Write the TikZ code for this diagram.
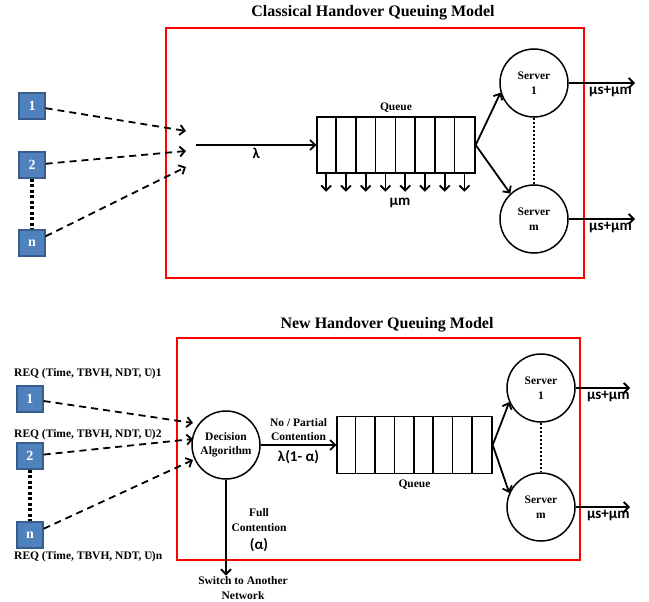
\documentclass[tikz,border=0pt]{standalone}
\usepackage{fontspec}
\setmainfont{Liberation Serif}
\newfontfamily\calibfont{Carlito}
\usetikzlibrary{positioning, arrows.meta}

\definecolor{blkfill}{RGB}{79,129,189}
\definecolor{blkdraw}{RGB}{56,93,138}

\tikzset{
  redbox/.style={draw=red, line width=1.5pt},
  blk/.style={draw=blkdraw, fill=blkfill, line width=1.2pt, minimum size=26pt, inner sep=0pt, text=white, font=\bfseries\fontsize{14}{16}\selectfont},
  lbl/.style={font=\bfseries\fontsize{11.5}{14.5}\selectfont, align=center, inner sep=1pt},
  symb/.style={font=\calibfont\bfseries\fontsize{15}{17}\selectfont, inner sep=1pt},
  ttl/.style={font=\bfseries\fontsize{16}{18}\selectfont},
  arr/.style={-{Straight Barb[length=5pt,width=10pt]}, line width=1.8pt},
  darr/.style={arr, dash pattern=on 7pt off 5pt},
  vdots/.style={line width=3.5pt, dash pattern=on 3pt off 2.5pt},
  sdots/.style={line width=1.8pt, dash pattern=on 2pt off 2pt},
  srv/.style={draw, circle, line width=1.5pt, minimum size=68pt, inner sep=0pt, lbl},
  qbox/.style={draw, line width=1.4pt, minimum width=158pt, minimum height=56pt, inner sep=0pt},
  cell/.style={line width=1.4pt},
}

\begin{document}
\begin{tikzpicture}[x=1pt, y=-1pt]
    \useasboundingbox (0,0) rectangle (649,602);
    % classical model
    \node[ttl] (title1) at (373,13) {Classical Handover Queuing Model};
    \draw[redbox] (166,28) rectangle (584,278);
    \node[blk] (a1) at (32,106) {1};
    \node[blk] (a2) at (32,165) {2};
    \node[blk] (an) at (32,243) {n};
    \draw[vdots] (a2) -- (an);
    \coordinate (in1) at (186,131);
    \coordinate (in2) at (186,151);
    \coordinate (in3) at (186,167);
    \draw[darr] (a1) -- (in1);
    \draw[darr] (a2) -- (in2);
    \draw[darr] (an) -- (in3);
    \coordinate (lam) at (196,145);
    \node[qbox] (queue) at (396,145) {};
    \foreach \i in {1,...,7}
        \draw[cell] (queue.north west) ++({\i*19.75},0) -- ++(0,56);
    \foreach \i in {1,...,8} {
        \path (queue.south west) ++({(\i-0.5)*19.75},0) coordinate (c\i);
        \draw[arr] (c\i) -- ++(0,18);
    }
    \draw[arr] (lam) -- node[symb, below=1pt] {λ} (queue.west);
    \node[lbl, above=3pt of queue] (qlab) {Queue};
    \node[symb] (mu) at (400,203) {μm};
    \node[srv] (s1) at (534,83) {Server\\1};
    \node[srv] (sm) at (534,219) {Server\\m};
    \draw[arr] (queue.east) -- (s1.196);
    \draw[arr] (queue.east) -- (sm.133);
    \draw[sdots] (s1) -- (sm);
    \coordinate (o1) at (635,83);
    \coordinate (om) at (635,219);
    \draw[arr] (s1) -- node[symb, pos=0.63, below=1pt] {μs+μm} (o1);
    \draw[arr] (sm) -- node[symb, pos=0.63, below=1pt] {μs+μm} (om);

    % new model
    \node[ttl] (title2) at (387,325) {New Handover Queuing Model};
    \draw[redbox] (177,338) rectangle (580,560);
    \node[blk] (b1) at (30,399) {1};
    \node[blk] (b2) at (30,456) {2};
    \node[blk] (bn) at (30,535) {n};
    \node[lbl, anchor=west] (r1) at (13,374) {REQ (Time, TBVH, NDT, Ʋ)1};
    \node[lbl, anchor=west] (r2) at (13,435) {REQ (Time, TBVH, NDT, Ʋ)2};
    \node[lbl, anchor=west] (rn) at (13,557) {REQ (Time, TBVH, NDT, Ʋ)n};
    \draw[vdots] (b2) -- (bn);
    \node[srv] (dec) at (226,445) {Decision\\Algorithm};
    \coordinate (d1) at (193,423);
    \coordinate (d2) at (193,439);
    \coordinate (d3) at (193,460);
    \draw[darr] (b1) -- (d1);
    \draw[darr] (b2) -- (d2);
    \draw[darr] (bn) -- (d3);
    \node[qbox, minimum width=155pt, minimum height=57pt] (queue2) at (414.5,445) {};
    \foreach \i in {1,...,7}
        \draw[cell] (queue2.north west) ++({\i*19.375},0) -- ++(0,57);
    \draw[arr] (dec) -- node[lbl, above=2pt] {No / Partial\\Contention} node[symb, below=3pt] {λ(1- α)} (queue2.west);
    \node[lbl, below=4pt of queue2] (qlab2) {Queue};
    \node[srv] (t1) at (541,388) {Server\\1};
    \node[srv] (tm) at (541,507) {Server\\m};
    \draw[arr] (queue2.east) -- (t1.204);
    \draw[arr] (queue2.east) -- (tm.156);
    \draw[sdots] (t1) -- (tm);
    \coordinate (p1) at (630,388);
    \coordinate (pm) at (630,507);
    \draw[arr] (t1) -- node[symb, pos=0.6, below=1pt] {μs+μm} (p1);
    \draw[arr] (tm) -- node[symb, pos=0.6, below=1pt] {μs+μm} (pm);
    \node[lbl] (sw) at (243,588) {Switch to Another\\Network};
    \draw[arr] (dec) -- (dec |- sw.north);
    \node[lbl] (fc) at (259,520) {Full\\Contention};
    \node[symb] (al) at (259,545) {(α)};
\end{tikzpicture}
\end{document}
